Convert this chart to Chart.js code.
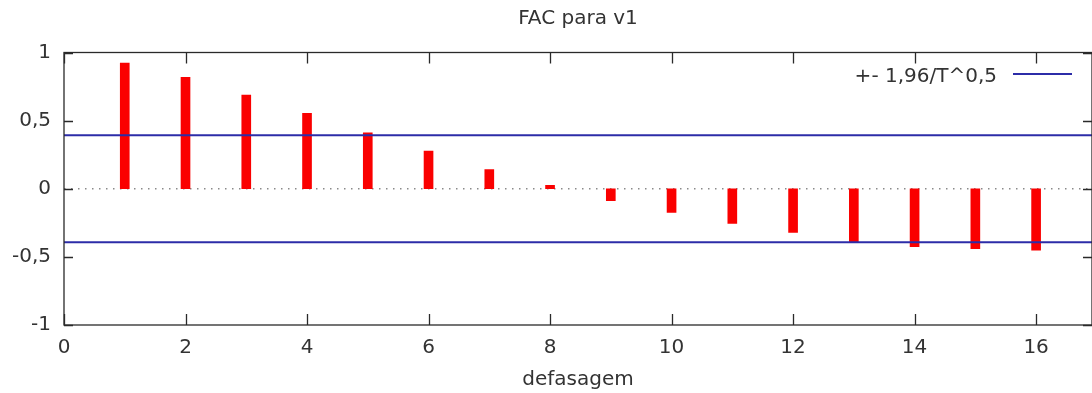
<!DOCTYPE html>
<html>
<head>
<meta charset="utf-8">
<title>FAC para v1</title>
<script src="https://cdn.jsdelivr.net/npm/chart.js@4.4.1/dist/chart.umd.min.js"></script>
<style>
  html, body { margin: 0; padding: 0; background: #fff; overflow: hidden; }
</style>
</head>
<body>
<canvas id="fac" width="1092" height="393"></canvas>
<script>
/* autocorrelation of v1, lags 1..16 */
const lags = [1, 2, 3, 4, 5, 6, 7, 8, 9, 10, 11, 12, 13, 14, 15, 16];
const acf = [0.922, 0.817, 0.688, 0.553, 0.411, 0.277, 0.14, 0.026,
             -0.088, -0.173, -0.254, -0.32, -0.389, -0.426, -0.44, -0.45];
// +- 1,96/T^0,5 band
const band = 0.392;
const xTicks = [0, 2, 4, 6, 8, 10, 12, 14, 16];
const yTicks = [-1, -0.5, 0, 0.5, 1];

const FONT = 'DejaVu Sans';
const TEXT = '#333333';
const BLUE = '#2c2ca8';

Chart.defaults.font.family = FONT;
Chart.defaults.font.size = 20;
Chart.defaults.color = TEXT;

const hline = (v) => [{x: 0, y: v}, {x: 17, y: v}];

// gnuplot-style box with inward ticks, plus the key in the top right corner
const framePlugin = {
  id: 'frame',
  afterDatasetsDraw(chart) {
    const {ctx, chartArea: a, scales: {x, y}} = chart;
    ctx.save();
    ctx.strokeStyle = '#2a2a2a';
    ctx.lineWidth = 1.3;
    ctx.strokeRect(a.left, a.top, a.right - a.left, a.bottom - a.top);
    ctx.beginPath();
    x.ticks.forEach(t => {
      const px = Math.round(x.getPixelForValue(t.value)) + 0.5;
      ctx.moveTo(px, a.bottom); ctx.lineTo(px, a.bottom - 11);
      ctx.moveTo(px, a.top); ctx.lineTo(px, a.top + 11);
    });
    y.ticks.forEach(t => {
      const py = Math.round(y.getPixelForValue(t.value)) + 0.5;
      ctx.moveTo(a.left, py); ctx.lineTo(a.left + 9, py);
      ctx.moveTo(a.right, py); ctx.lineTo(a.right - 9, py);
    });
    ctx.stroke();

    // key
    const ds = chart.data.datasets[1];
    ctx.font = '20px "' + FONT + '"';
    ctx.fillStyle = TEXT;
    ctx.textAlign = 'right';
    ctx.textBaseline = 'alphabetic';
    ctx.fillText(ds.label, a.right - 95, a.top + 29);
    ctx.strokeStyle = ds.borderColor;
    ctx.lineWidth = 2;
    ctx.beginPath();
    ctx.moveTo(a.right - 79, a.top + 21.5);
    ctx.lineTo(a.right - 20, a.top + 21.5);
    ctx.stroke();
    ctx.restore();
  }
};

const ctx = document.getElementById('fac').getContext('2d');
const chart = new Chart(ctx, {
  type: 'bar',
  data: {
    datasets: [
      {
        type: 'bar',
        label: 'FAC',
        data: lags.map((l, i) => ({x: l, y: acf[i]})),
        backgroundColor: '#fa0000',
        borderWidth: 0,
        barThickness: 9,
        order: 2
      },
      {
        type: 'line',
        label: '+- 1,96/T^0,5',
        data: hline(band),
        borderColor: BLUE,
        borderWidth: 2,
        pointRadius: 0,
        order: 1
      },
      {
        type: 'line',
        label: '',
        data: hline(-band),
        borderColor: BLUE,
        borderWidth: 2,
        pointRadius: 0,
        order: 1
      },
      {
        type: 'line',
        label: '',
        data: hline(0),
        borderColor: '#8a8a8a',
        borderWidth: 1.3,
        borderDash: [1.5, 5.5],
        pointRadius: 0,
        order: 3
      }
    ]
  },
  options: {
    responsive: false,
    animation: false,
    layout: { padding: 0 },
    plugins: {
      legend: { display: false },
      tooltip: { enabled: false },
      title: {
        display: true,
        text: 'FAC para v1',
        fullSize: false,
        color: TEXT,
        font: { size: 20, weight: 'normal' },
        padding: { top: 7, bottom: 21.5 }
      }
    },
    scales: {
      x: {
        type: 'linear',
        offset: false,
        min: 0,
        max: 16.92,
        grid: { display: false, drawTicks: false, offset: false },
        border: { display: false },
        afterBuildTicks: s => { s.ticks = xTicks.map(v => ({value: v})); },
        afterFit: s => { s.height = 68; },
        ticks: { padding: 11, maxRotation: 0, color: TEXT },
        title: {
          display: true,
          text: 'defasagem',
          color: TEXT,
          padding: { top: 0, bottom: 1.5 }
        }
      },
      y: {
        min: -1,
        max: 1,
        grid: { display: false, drawTicks: false },
        border: { display: false },
        afterBuildTicks: s => { s.ticks = yTicks.map(v => ({value: v})); },
        afterFit: s => { s.width = 64; },
        ticks: {
          padding: 13,
          color: TEXT,
          callback: v => String(v).replace('.', ',')
        }
      }
    }
  },
  plugins: [framePlugin]
});
</script>
</body>
</html>
